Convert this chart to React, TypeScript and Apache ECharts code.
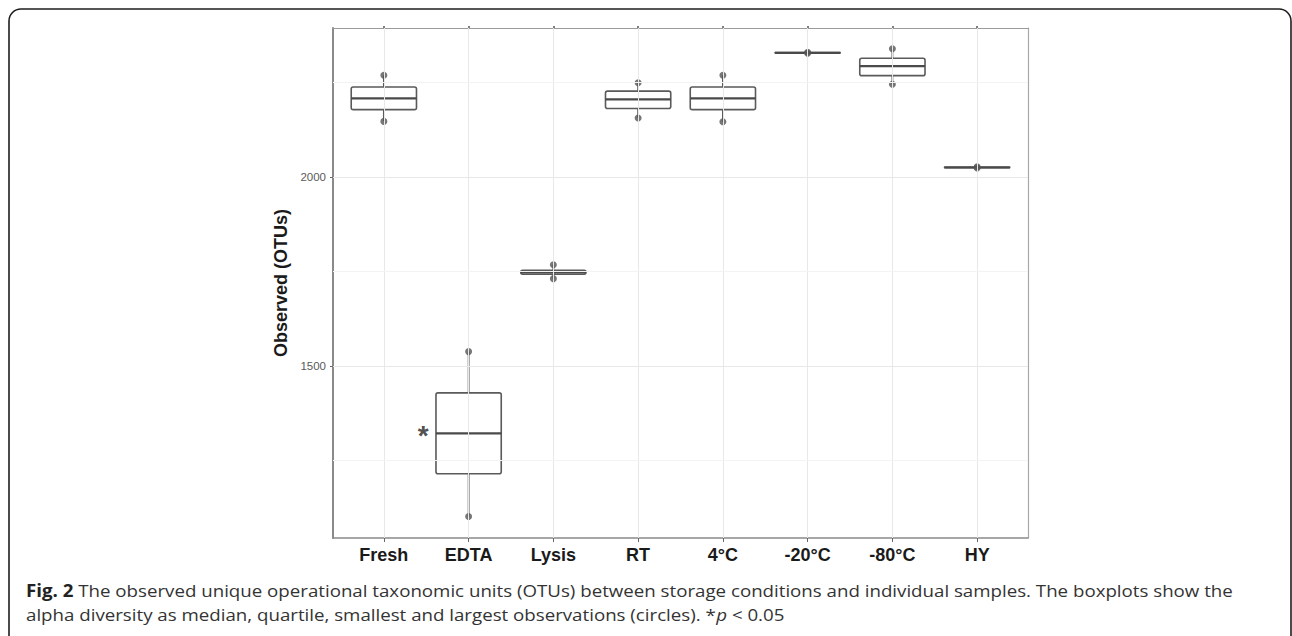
import React, { useEffect, useRef } from "react";
import * as echarts from "echarts";

const categories = ["Fresh", "EDTA", "Lysis", "RT", "4°C", "-20°C", "-80°C", "HY"];
const minObs = [2147, 1102, 1731, 2156, 2146, 2327, 2245, 2024];
const q1 = [2178, 1215, 1743, 2181, 2178, 2328, 2268, 2025];
const medians = [2208, 1322, 1748, 2205, 2208, 2328, 2293, 2025];
const q3 = [2238, 1429, 1753, 2227, 2238, 2329, 2314, 2026];
const maxObs = [2269, 1538, 1768, 2249, 2269, 2330, 2339, 2027];
const yTicks = [1500, 2000];
const yMinorGrid = [1250, 1750, 2250];
const significant = ["EDTA"];

const Y_MIN = 1045;
const Y_MAX = 2394;

export default function App() {
  const ref = useRef<HTMLDivElement>(null);
  useEffect(() => {
    if (!ref.current) return;
    const chart = echarts.init(ref.current, null, { renderer: "svg" });
    const xs = categories.map((_, i) => i + 1);
    const boxData = categories.map((_, i) => [i + 1, minObs[i], q1[i], medians[i], q3[i], maxObs[i]]);
    const pointData: number[][] = [];
    categories.forEach((_, i) => {
      pointData.push([i + 1, minObs[i]]);
      pointData.push([i + 1, maxObs[i]]);
    });
    const starData = significant.map((c) => {
      const i = categories.indexOf(c);
      return [i + 1, medians[i]];
    });
    const font = "'Liberation Sans', Arial, Helvetica, sans-serif";
    const capFont = "'Open Sans', 'Noto Sans', sans-serif";
    const gridLines: any[] = [];
    xs.forEach((x) => gridLines.push({ xAxis: x, lineStyle: { color: "#e8e8e8", width: 1, type: "solid" } }));
    yTicks.forEach((y) => gridLines.push({ yAxis: y, lineStyle: { color: "#e8e8e8", width: 1, type: "solid" } }));
    yMinorGrid.forEach((y) => gridLines.push({ yAxis: y, lineStyle: { color: "#f3f3f3", width: 1, type: "solid" } }));

    const stroke = "#5a5a5a";

    chart.setOption({
      animation: false,
      backgroundColor: "#ffffff",
      grid: { left: 333, top: 28, width: 695, height: 510, containLabel: false },
      xAxis: [
        {
          type: "value",
          min: 0.4,
          max: 8.6,
          position: "bottom",
          splitLine: { show: false },
          axisLine: { show: true, lineStyle: { color: "#8a8a8a", width: 1.5 } },
          axisTick: { show: true, customValues: xs, length: 4, lineStyle: { color: "#666", width: 1 } },
          axisLabel: {
            customValues: xs,
            formatter: (v: number) => categories[Math.round(v) - 1] ?? "",
            fontFamily: font,
            fontWeight: "bold",
            fontSize: 18,
            color: "#1a1a1a",
            margin: 8,
          },
        },
        {
          type: "value",
          min: 0.4,
          max: 8.6,
          position: "top",
          splitLine: { show: false },
          axisLine: { show: true, lineStyle: { color: "#9a9a9a", width: 1.2 } },
          axisTick: { show: true, customValues: xs, length: 2, lineStyle: { color: "#555", width: 1.5 } },
          axisLabel: { show: false },
        },
      ],
      yAxis: [
        {
          type: "value",
          min: Y_MIN,
          max: Y_MAX,
          position: "left",
          name: "Observed (OTUs)",
          nameLocation: "middle",
          nameGap: 30,
          nameTextStyle: { fontFamily: font, fontWeight: "bold", fontSize: 18, color: "#1a1a1a" },
          splitLine: { show: false },
          axisLine: { show: true, lineStyle: { color: "#8a8a8a", width: 2 } },
          axisTick: { show: true, customValues: yTicks, length: 3, lineStyle: { color: "#666", width: 1 } },
          axisLabel: {
            customValues: yTicks,
            formatter: (v: number) => String(v),
            fontFamily: font,
            fontSize: 11.5,
            color: "#5a5a5a",
            margin: 7,
          },
        },
        {
          type: "value",
          min: Y_MIN,
          max: Y_MAX,
          position: "right",
          splitLine: { show: false },
          axisLine: { show: true, lineStyle: { color: "#a8a8a8", width: 1.2 } },
          axisTick: { show: false },
          axisLabel: { show: false },
        },
      ],
      series: [
        {
          type: "scatter",
          name: "grid",
          data: [],
          z: 0,
          silent: true,
          markLine: {
            silent: true,
            symbol: ["none", "none"],
            label: { show: false },
            data: gridLines,
            animation: false,
          },
        },
        {
          type: "custom",
          name: "OTUs",
          data: boxData,
          encode: { x: 0, y: [1, 2, 3, 4, 5] },
          z: 2,
          silent: true,
          renderItem: (params: any, api: any) => {
            const x = api.value(0);
            const lo = api.coord([x, api.value(1)]);
            const b1 = api.coord([x, api.value(2)]);
            const md = api.coord([x, api.value(3)]);
            const b3 = api.coord([x, api.value(4)]);
            const hi = api.coord([x, api.value(5)]);
            const w = api.size([0.77, 0])[0];
            const cx = md[0];
            return {
              type: "group",
              children: [
                { type: "line", shape: { x1: cx, y1: lo[1], x2: cx, y2: b1[1] }, style: { stroke, lineWidth: 1.8 } },
                { type: "line", shape: { x1: cx, y1: hi[1], x2: cx, y2: b3[1] }, style: { stroke, lineWidth: 1.8 } },
                {
                  type: "rect",
                  shape: { x: cx - w / 2, y: b3[1], width: w, height: Math.max(b1[1] - b3[1], 0.5), r: 2 },
                  style: { fill: "#ffffff", stroke, lineWidth: 1.6 },
                },
                { type: "line", shape: { x1: cx - w / 2, y1: md[1], x2: cx + w / 2, y2: md[1] }, style: { stroke: "#4a4a4a", lineWidth: 2.2 } },
              ],
            };
          },
        },
        {
          type: "scatter",
          name: "observations",
          data: pointData,
          symbol: "circle",
          symbolSize: 7,
          itemStyle: { color: "#555555" },
          z: 4,
          silent: true,
        },
        {
          type: "scatter",
          name: "significance",
          data: starData,
          symbolSize: 0,
          z: 5,
          silent: true,
          label: {
            show: true,
            formatter: "*",
            position: "left",
            distance: 38,
            offset: [-2, 2],
            fontFamily: font,
            fontWeight: "bold",
            fontSize: 28,
            color: "#222",
          },
        },
      ],
      graphic: [
        {
          type: "rect",
          shape: { x: 9, y: 9, width: 1282, height: 660, r: [12, 12, 0, 0] },
          style: { fill: "none", stroke: "#1e1e1e", lineWidth: 1.6 },
          silent: true,
        },
        {
          type: "text",
          x: 26,
          y: 578,
          scaleX: 1.1,
          style: {
            text:
              "{b|Fig. 2} The observed unique operational taxonomic units (OTUs) between storage conditions and individual samples. The boxplots show the\nalpha diversity as median, quartile, smallest and largest observations (circles). *{i|p} < 0.05",
            fontFamily: capFont,
            fontSize: 17,
            lineHeight: 24,
            fill: "#333",
            rich: {
              b: { fontFamily: capFont, fontWeight: "bold", fontSize: 17, lineHeight: 24, fill: "#222" },
              i: { fontFamily: capFont, fontStyle: "italic", fontSize: 17, lineHeight: 24, fill: "#333" },
            },
          },
        },
      ],
    });
    return () => chart.dispose();
  }, []);
  return <div ref={ref} style={{ position: "absolute", left: 0, top: 0, width: 1292, height: 636 }} />;
}
